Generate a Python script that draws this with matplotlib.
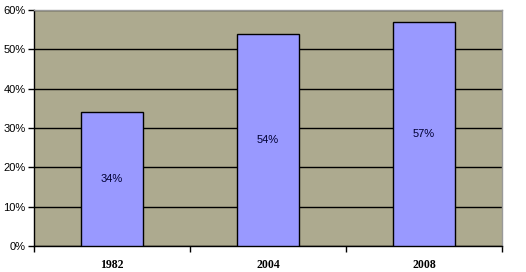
import matplotlib
matplotlib.use("Agg")
import matplotlib.pyplot as plt
from matplotlib.ticker import MultipleLocator, FuncFormatter

categories = ["1982", "2004", "2008"]
values = [34, 54, 57]
labels = ["34%", "54%", "57%"]

W, H = 526, 272
fig = plt.figure(figsize=(W/100, H/100), dpi=100)
fig.patch.set_facecolor("white")
ax = fig.add_axes([34/W, 1-246/H, (502-34)/W, (246-10)/H])
ax.set_facecolor("#ADAA8F")

x = list(range(len(categories)))
bars = ax.bar(x, values, width=0.4, color="#9999FF", edgecolor="black", linewidth=1, zorder=3)
for xi, v, lab in zip(x, values, labels):
    ax.text(xi, v/2, lab, ha="center", va="center", fontsize=8,
            family="Liberation Sans", color="#000033", zorder=4)

ax.set_xlim(-0.5, 2.5)
ax.set_ylim(0, 60)
ax.yaxis.set_major_locator(MultipleLocator(10))
ax.yaxis.set_major_formatter(FuncFormatter(lambda v, p: f"{int(v)}%"))
ax.grid(axis="y", color="black", linewidth=1, zorder=1)
ax.set_axisbelow(True)

ax.set_xticks(x)
ax.set_xticklabels(categories, fontfamily="Liberation Serif", fontweight="bold", fontsize=8.5)
ax.tick_params(axis="x", length=0, pad=9)
# category boundary ticks
ax.set_xticks([-0.5, 0.5, 1.5, 2.5], minor=True)
ax.tick_params(axis="x", which="minor", length=4, direction="out", width=1)
ax.tick_params(axis="y", length=4, direction="out", width=1, labelsize=8, pad=2)
for lab in ax.get_yticklabels():
    lab.set_fontfamily("Liberation Sans")

ax.spines["left"].set_color("black")
ax.spines["bottom"].set_color("black")
ax.spines["top"].set_color("#999999")
ax.spines["right"].set_color("#999999")
for s in ax.spines.values():
    s.set_linewidth(1)

fig.savefig("out.png", dpi=100)
